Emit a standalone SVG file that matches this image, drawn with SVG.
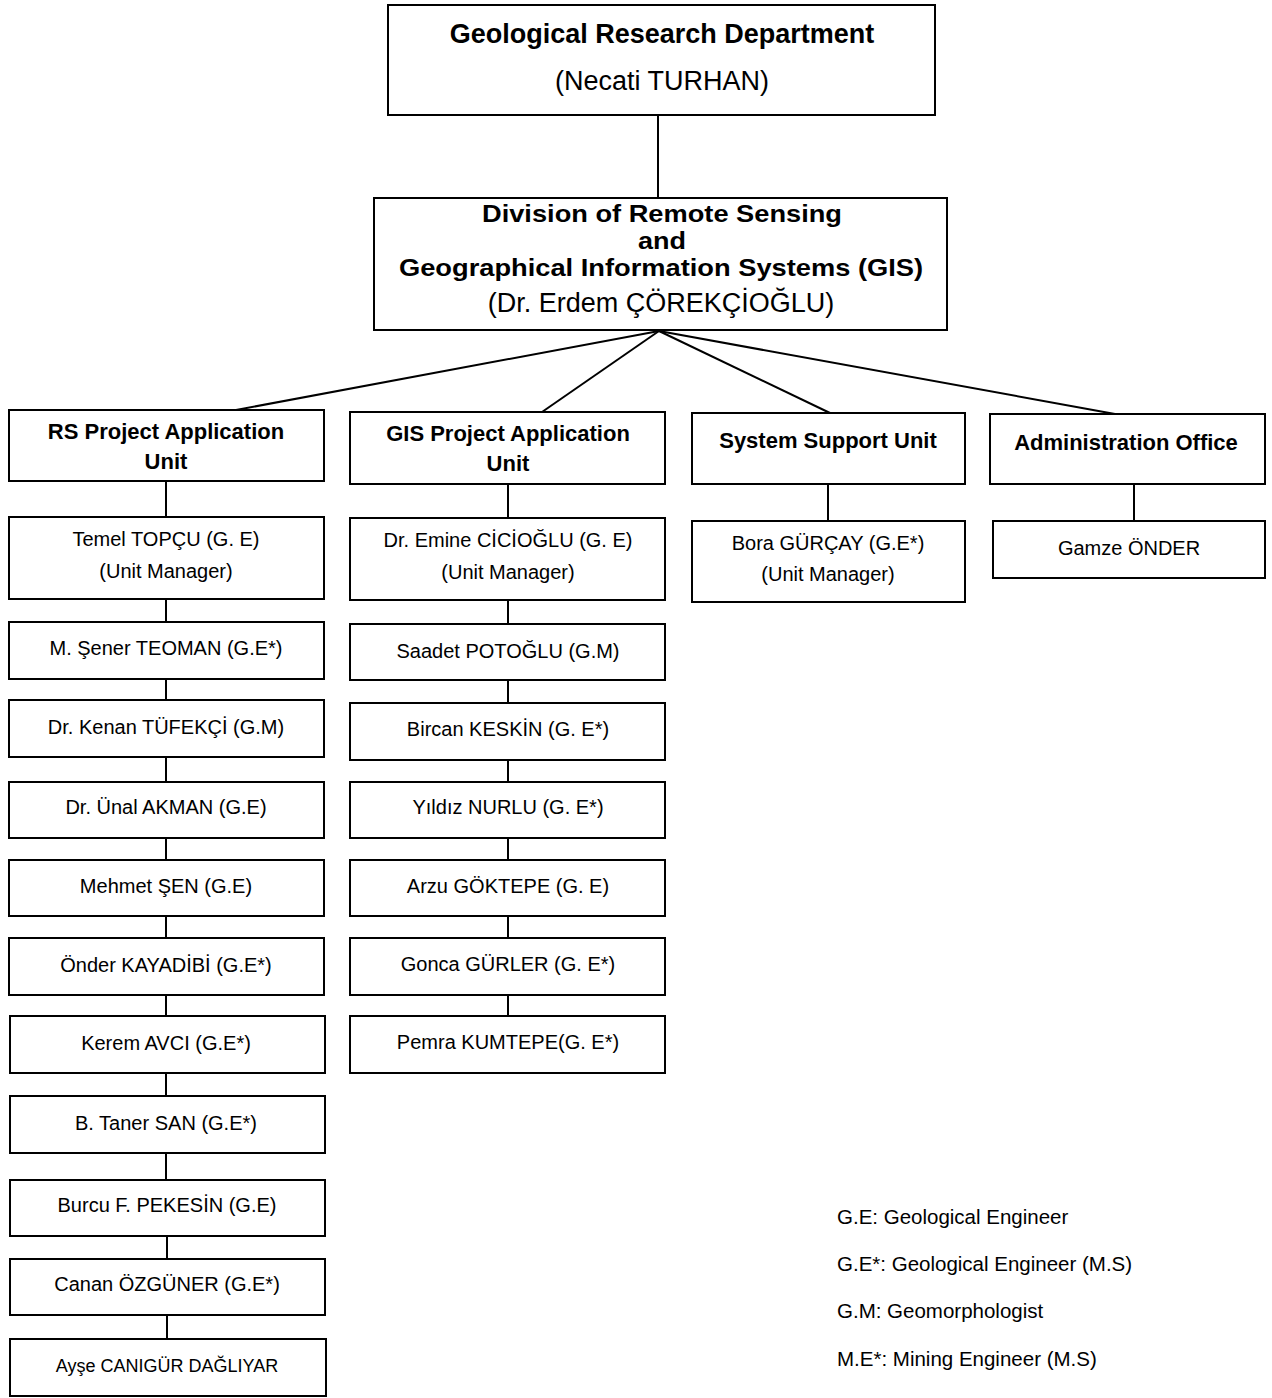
<svg xmlns="http://www.w3.org/2000/svg" width="1272" height="1398" viewBox="0 0 1272 1398">
<style>
rect{fill:#fff;stroke:#000;stroke-width:2}
line{stroke:#000;stroke-width:2}
text{font-family:"Liberation Sans",Arial,sans-serif;fill:#000;text-anchor:middle}
.t{font-size:27px;font-weight:bold}
.td{font-size:24px;font-weight:bold}
.tr{font-size:27px}
.h{font-size:22px;font-weight:bold}
.n{font-size:20px}
.s{font-size:18px}
.lg{font-size:20.5px;text-anchor:start}
</style>
<rect x="0" y="0" width="1272" height="1398" style="stroke:none"/>
<g id="connectors">
<line x1="658" y1="115" x2="658" y2="198"/>
<line x1="659" y1="331" x2="236" y2="410"/>
<line x1="659" y1="331" x2="542" y2="412"/>
<line x1="659" y1="331" x2="830" y2="413"/>
<line x1="659" y1="331" x2="1115" y2="414"/>
<line x1="166" y1="481" x2="166" y2="517"/>
<line x1="166" y1="599" x2="166" y2="622"/>
<line x1="166" y1="679" x2="166" y2="700"/>
<line x1="166" y1="757" x2="166" y2="782"/>
<line x1="166" y1="838" x2="166" y2="860"/>
<line x1="166" y1="916" x2="166" y2="938"/>
<line x1="166" y1="995" x2="166" y2="1016"/>
<line x1="166" y1="1073" x2="166" y2="1096"/>
<line x1="166" y1="1153" x2="166" y2="1180"/>
<line x1="167" y1="1236" x2="167" y2="1259"/>
<line x1="167" y1="1315" x2="167" y2="1339"/>
<line x1="508" y1="484" x2="508" y2="518"/>
<line x1="508" y1="600" x2="508" y2="624"/>
<line x1="508" y1="680" x2="508" y2="703"/>
<line x1="508" y1="760" x2="508" y2="782"/>
<line x1="508" y1="838" x2="508" y2="860"/>
<line x1="508" y1="916" x2="508" y2="938"/>
<line x1="508" y1="995" x2="508" y2="1016"/>
<line x1="828" y1="484" x2="828" y2="521"/>
<line x1="1134" y1="484" x2="1134" y2="521"/>
</g>
<g id="dept"><rect x="388" y="5" width="547" height="110"/><text class="t" x="662" y="43">Geological Research Department</text><text class="tr" x="662" y="90">(Necati TURHAN)</text></g>
<g id="division"><rect x="374" y="198" width="573" height="132"/><text class="td" x="662" y="222" textLength="360" lengthAdjust="spacingAndGlyphs">Division of Remote Sensing</text><text class="td" x="662" y="249" textLength="48" lengthAdjust="spacingAndGlyphs">and</text><text class="td" x="661" y="276" textLength="524" lengthAdjust="spacingAndGlyphs">Geographical Information Systems (GIS)</text><text class="tr" x="661" y="312">(Dr. Erdem ÇÖREKÇİOĞLU)</text></g>
<g id="rs-unit"><rect x="9" y="410" width="315" height="71"/><text class="h" x="166" y="439">RS Project Application</text><text class="h" x="166" y="469">Unit</text></g>
<g id="gis-unit"><rect x="350" y="412" width="315" height="72"/><text class="h" x="508" y="441">GIS Project Application</text><text class="h" x="508" y="471">Unit</text></g>
<g id="ss-unit"><rect x="692" y="413" width="273" height="71"/><text class="h" x="828" y="448">System Support Unit</text></g>
<g id="admin"><rect x="990" y="414" width="275" height="70"/><text class="h" x="1126" y="450">Administration Office</text></g>
<g id="rs1"><rect x="9" y="517" width="315" height="82"/><text class="n" x="166" y="546">Temel TOPÇU (G. E)</text><text class="n" x="166" y="578">(Unit Manager)</text></g>
<g id="rs2"><rect x="9" y="622" width="315" height="57"/><text class="n" x="166" y="655">M. Şener TEOMAN (G.E*)</text></g>
<g id="rs3"><rect x="9" y="700" width="315" height="57"/><text class="n" x="166" y="734">Dr. Kenan TÜFEKÇİ (G.M)</text></g>
<g id="rs4"><rect x="9" y="782" width="315" height="56"/><text class="n" x="166" y="814">Dr. Ünal AKMAN (G.E)</text></g>
<g id="rs5"><rect x="9" y="860" width="315" height="56"/><text class="n" x="166" y="893">Mehmet ŞEN (G.E)</text></g>
<g id="rs6"><rect x="9" y="938" width="315" height="57"/><text class="n" x="166" y="972">Önder KAYADİBİ (G.E*)</text></g>
<g id="rs7"><rect x="10" y="1016" width="315" height="57"/><text class="n" x="166" y="1050">Kerem AVCI (G.E*)</text></g>
<g id="rs8"><rect x="10" y="1096" width="315" height="57"/><text class="n" x="166" y="1130">B. Taner SAN (G.E*)</text></g>
<g id="rs9"><rect x="10" y="1180" width="315" height="56"/><text class="n" x="167" y="1212">Burcu F. PEKESİN (G.E)</text></g>
<g id="rs10"><rect x="10" y="1259" width="315" height="56"/><text class="n" x="167" y="1291">Canan ÖZGÜNER (G.E*)</text></g>
<g id="rs11"><rect x="10" y="1339" width="316" height="57"/><text class="s" x="167" y="1372">Ayşe CANIGÜR DAĞLIYAR</text></g>
<g id="gis1"><rect x="350" y="518" width="315" height="82"/><text class="n" x="508" y="547">Dr. Emine CİCİOĞLU (G. E)</text><text class="n" x="508" y="579">(Unit Manager)</text></g>
<g id="gis2"><rect x="350" y="624" width="315" height="56"/><text class="n" x="508" y="658">Saadet POTOĞLU (G.M)</text></g>
<g id="gis3"><rect x="350" y="703" width="315" height="57"/><text class="n" x="508" y="736">Bircan KESKİN (G. E*)</text></g>
<g id="gis4"><rect x="350" y="782" width="315" height="56"/><text class="n" x="508" y="814">Yıldız NURLU (G. E*)</text></g>
<g id="gis5"><rect x="350" y="860" width="315" height="56"/><text class="n" x="508" y="893">Arzu GÖKTEPE (G. E)</text></g>
<g id="gis6"><rect x="350" y="938" width="315" height="57"/><text class="n" x="508" y="971">Gonca GÜRLER (G. E*)</text></g>
<g id="gis7"><rect x="350" y="1016" width="315" height="57"/><text class="n" x="508" y="1049">Pemra KUMTEPE(G. E*)</text></g>
<g id="ss1"><rect x="692" y="521" width="273" height="81"/><text class="n" x="828" y="550">Bora GÜRÇAY (G.E*)</text><text class="n" x="828" y="581">(Unit Manager)</text></g>
<g id="admin1"><rect x="993" y="521" width="272" height="57"/><text class="n" x="1129" y="555">Gamze ÖNDER</text></g>
<g id="legend">
<text class="lg" x="837" y="1224">G.E: Geological Engineer</text>
<text class="lg" x="837" y="1271">G.E*: Geological Engineer (M.S)</text>
<text class="lg" x="837" y="1318">G.M: Geomorphologist</text>
<text class="lg" x="837" y="1366">M.E*: Mining Engineer (M.S)</text>
</g>
</svg>
